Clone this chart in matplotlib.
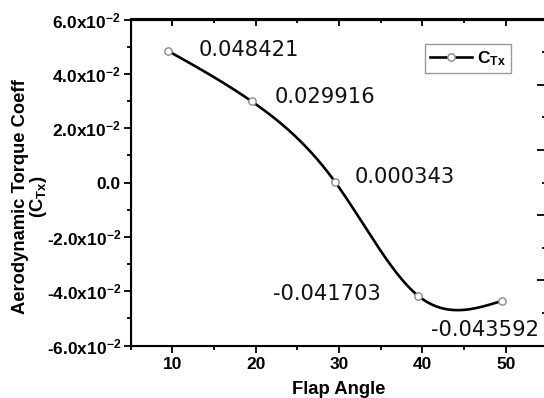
import numpy as np
import matplotlib
matplotlib.use('Agg')
import matplotlib.pyplot as plt
from matplotlib.ticker import MultipleLocator, FixedLocator

plt.rcParams['font.family'] = ['Liberation Sans', 'DejaVu Sans']
plt.rcParams['mathtext.default'] = 'regular'

flap_angle = [9.5, 19.5, 29.5, 39.5, 49.5]
ctx = [0.048421, 0.029916, 0.000343, -0.041703, -0.043592]
ctx_labels = ['0.048421', '0.029916', '0.000343', '-0.041703', '-0.043592']
y_ticks = [-0.06, -0.04, -0.02, 0.0, 0.02, 0.04, 0.06]
y_ticklabels = ['-6.0x10$^{-2}$', '-4.0x10$^{-2}$', '-2.0x10$^{-2}$', '0.0',
                '2.0x10$^{-2}$', '4.0x10$^{-2}$', '6.0x10$^{-2}$']


def natural_spline(x, y, n=300):
    """Spline cubica natural so para desenhar a ligacao suave entre os pontos."""
    x = np.asarray(x, float)
    y = np.asarray(y, float)
    k = len(x)
    h = np.diff(x)
    A = np.zeros((k, k))
    b = np.zeros(k)
    A[0, 0] = A[-1, -1] = 1
    for i in range(1, k - 1):
        A[i, i - 1] = h[i - 1]
        A[i, i] = 2 * (h[i - 1] + h[i])
        A[i, i + 1] = h[i]
        b[i] = 6 * ((y[i + 1] - y[i]) / h[i] - (y[i] - y[i - 1]) / h[i - 1])
    m = np.linalg.solve(A, b)
    xs = np.linspace(x[0], x[-1], n)
    idx = np.clip(np.searchsorted(x, xs) - 1, 0, k - 2)
    x0, x1 = x[idx], x[idx + 1]
    hh = x1 - x0
    t0, t1 = x1 - xs, xs - x0
    ys = (m[idx] * t0 ** 3 / (6 * hh) + m[idx + 1] * t1 ** 3 / (6 * hh)
          + (y[idx] / hh - m[idx] * hh / 6) * t0
          + (y[idx + 1] / hh - m[idx + 1] * hh / 6) * t1)
    return xs, ys


fig = plt.figure(figsize=(5.44, 3.98), dpi=100)
ax = fig.add_axes([130.7 / 544, 1 - 345.6 / 398, 416.7 / 544, 326.1 / 398])

xs, ys = natural_spline(flap_angle, ctx)
ax.plot(xs, ys, color='black', linewidth=1.9, zorder=2)
ax.plot(flap_angle, ctx, linestyle='none', marker='o', markersize=5.3,
        markerfacecolor='white', markeredgecolor='#8a8a8a', markeredgewidth=1.0,
        zorder=3)
# so para a legenda
ax.plot([], [], color='black', linewidth=1.9, marker='o', markersize=5.3,
        markerfacecolor='white', markeredgecolor='#8a8a8a', label='C$_{Tx}$')

offsets = [(30, 1), (23, 4), (20, 5), (-145, 2), (-71, -29)]
for xv, yv, txt, off in zip(flap_angle, ctx, ctx_labels, offsets):
    ax.annotate(txt, (xv, yv), xytext=off, textcoords='offset pixels',
                ha='left', va='center', fontsize=15.2, family='DejaVu Sans',
                color='#111111')

ax.set_xlim(5, 55)
ax.set_ylim(-0.06, 0.06)
ax.xaxis.set_major_locator(MultipleLocator(10))
ax.xaxis.set_minor_locator(MultipleLocator(5))
ax.yaxis.set_major_locator(FixedLocator(y_ticks))
ax.set_yticklabels(y_ticklabels)
ax.yaxis.set_minor_locator(MultipleLocator(0.01))

for sp in ax.spines.values():
    sp.set_linewidth(1.5)

ax.tick_params(which='both', direction='out', width=1.3, labelsize=12.5)
ax.tick_params(which='major', length=5)
ax.tick_params(which='minor', length=3)
ax.tick_params(axis='x', which='both', top=False, pad=3)
ax.tick_params(axis='y', pad=2)
for lab in ax.get_xticklabels() + ax.get_yticklabels():
    lab.set_fontweight('bold')

# ticks do topo para dentro
top = ax.secondary_xaxis('top')
top.xaxis.set_major_locator(MultipleLocator(10))
top.xaxis.set_minor_locator(MultipleLocator(5))
top.tick_params(which='both', direction='in', labeltop=False, width=1.3)
top.tick_params(which='major', length=5)
top.tick_params(which='minor', length=3)
top.spines['top'].set_linewidth(1.5)

# marcas do lado direito (painel vizinho cortado)
ax2 = ax.twinx()
ax2.set_ylim(0, 5)
ax2.yaxis.set_major_locator(MultipleLocator(1))
ax2.yaxis.set_minor_locator(MultipleLocator(0.5))
ax2.tick_params(which='both', direction='in', labelright=False, width=1.3)
ax2.tick_params(which='major', length=7)
ax2.tick_params(which='minor', length=3.5)
ax2.spines['right'].set_linewidth(1.5)

ax.set_xlabel('Flap Angle', fontsize=13.3, fontweight='bold', labelpad=7)
ax.set_ylabel('Aerodynamic Torque Coeff\n(C$_{Tx}$)', fontsize=13.2,
              fontweight='bold', linespacing=0.95)
ax.yaxis.set_label_coords(-0.196, 0.456)

leg = ax.legend(loc='upper right', bbox_to_anchor=(0.913, 0.925), borderaxespad=0,
                fancybox=False, edgecolor='#999999', handlelength=2.4,
                prop={'weight': 'bold', 'size': 12.5}, borderpad=0.3,
                handletextpad=0.3, framealpha=1)
leg.get_frame().set_linewidth(1.0)

fig.savefig('out.png', dpi=100)
